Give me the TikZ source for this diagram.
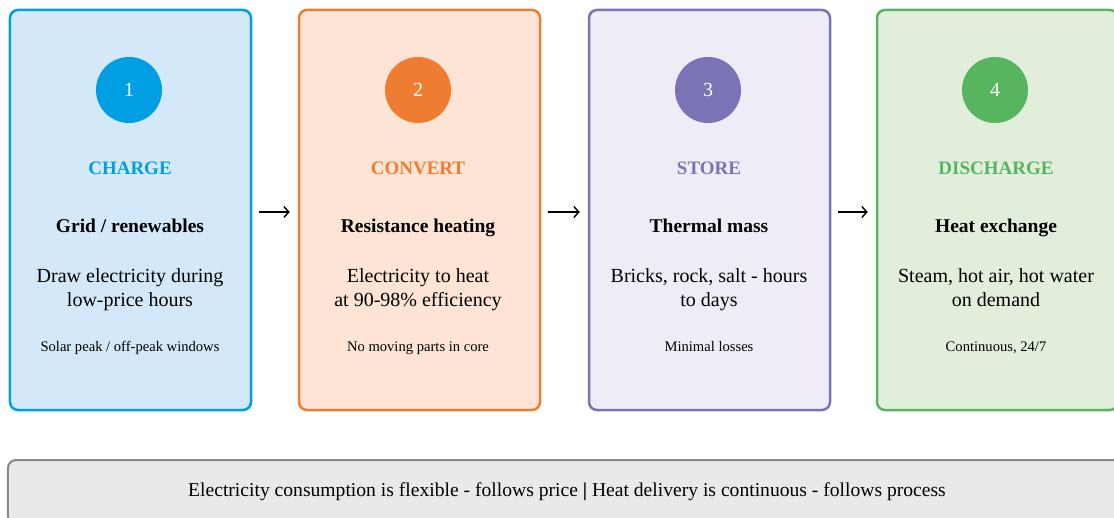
\documentclass[tikz,border=0pt]{standalone}
\usepackage{fontspec}
\setmainfont{Liberation Serif}
\usetikzlibrary{positioning,arrows.meta}

\definecolor{chargeblue}{HTML}{009FE3}
\definecolor{chargefill}{HTML}{D3E8F8}
\definecolor{convorange}{HTML}{EF7D31}
\definecolor{convfill}{HTML}{FDE4D4}
\definecolor{storepurple}{HTML}{7A74B6}
\definecolor{storefill}{HTML}{F0ECF7}
\definecolor{dischgreen}{HTML}{57B560}
\definecolor{dischfill}{HTML}{E1EEDC}
\definecolor{barline}{HTML}{888888}
\definecolor{barfill}{HTML}{E9E9E9}

\tikzset{
	stagebox/.style={draw=#1, line width=2.5bp, rounded corners=8bp, minimum width=241bp, minimum height=400bp, inner sep=0pt},
	badge/.style={circle, fill=#1, minimum size=66bp, inner sep=0pt, text=white, font=\fontsize{20bp}{24bp}\selectfont},
	stagetitle/.style={anchor=base, text=#1, font=\fontsize{19bp}{23bp}\selectfont\bfseries},
	subhead/.style={anchor=base, font=\fontsize{19.5bp}{22bp}\selectfont\bfseries},
	bodytext/.style={anchor=base, align=center, font=\fontsize{20bp}{24bp}\selectfont},
	smallnote/.style={anchor=base, font=\fontsize{14.6bp}{17bp}\selectfont},
	flow/.style={-{Straight Barb[length=5bp, width=11bp]}, line width=1.4bp},
	notebar/.style={draw=barline, fill=barfill, line width=2bp, rounded corners=8bp, minimum width=1118bp, minimum height=64bp},
}

\begin{document}
\begin{tikzpicture}[x=1bp, y=-1bp]
			%%%%% START %%%%%
			\useasboundingbox (0,0) rectangle (1114,518);
			
			% charge
			\node[stagebox=chargeblue, fill=chargefill] (c1) at (130.5,210) {};
			\node[badge=chargeblue] (n1) at (129,90) {1};
			\node[stagetitle=chargeblue] (t1) at (130,175) {CHARGE};
			\node[subhead] (s1) at (130,233) {Grid / renewables};
			\node[bodytext] (b1) at (130,307) {Draw electricity during\\low-price hours};
			\node[smallnote] (m1) at (130,352) {Solar peak / off-peak windows};
			
			% convert
			\node[stagebox=convorange, fill=convfill] (c2) at (419.5,210) {};
			\node[badge=convorange] (n2) at (418,90) {2};
			\node[stagetitle=convorange] (t2) at (418,175) {CONVERT};
			\node[subhead] (s2) at (418,233) {Resistance heating};
			\node[bodytext] (b2) at (418,307) {Electricity to heat\\at 90-98\% efficiency};
			\node[smallnote] (m2) at (418,352) {No moving parts in core};
			
			% store
			\node[stagebox=storepurple, fill=storefill] (c3) at (709.5,210) {};
			\node[badge=storepurple] (n3) at (708,90) {3};
			\node[stagetitle=storepurple] (t3) at (709,175) {STORE};
			\node[subhead] (s3) at (709,233) {Thermal mass};
			\node[bodytext] (b3) at (709,307) {Bricks, rock, salt - hours\\to days};
			\node[smallnote] (m3) at (709,352) {Minimal losses};
			
			% discharge
			\node[stagebox=dischgreen, fill=dischfill] (c4) at (997.5,210) {};
			\node[badge=dischgreen] (n4) at (995,90) {4};
			\node[stagetitle=dischgreen] (t4) at (996,175) {DISCHARGE};
			\node[subhead] (s4) at (996,233) {Heat exchange};
			\node[bodytext] (b4) at (996,307) {Steam, hot air, hot water\\on demand};
			\node[smallnote] (m4) at (996,352) {Continuous, 24/7};
			
			\draw[flow] ([xshift=7bp, yshift=-2bp]c1.east) -- ([xshift=-8bp, yshift=-2bp]c2.west);
			\draw[flow] ([xshift=7bp, yshift=-2bp]c2.east) -- ([xshift=-8bp, yshift=-2bp]c3.west);
			\draw[flow] ([xshift=7bp, yshift=-2bp]c3.east) -- ([xshift=-8bp, yshift=-2bp]c4.west);
			
			\node[notebar, font=\fontsize{19.6bp}{22bp}\selectfont] (bar) at (567,492) {Electricity consumption is flexible - follows price \textbf{|} Heat delivery is continuous - follows process};
			
			%%%%% END %%%%%
\end{tikzpicture}
\end{document}
